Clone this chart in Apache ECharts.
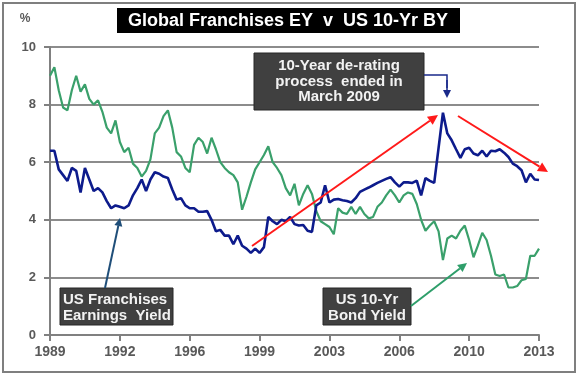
<!DOCTYPE html>
<html><head><meta charset="utf-8">
<script src="https://cdn.jsdelivr.net/npm/echarts@6/dist/echarts.min.js"></script>
<style>html,body{margin:0;padding:0;background:#fff}#c{width:579px;height:376px}</style>
</head><body><div id="c"></div>
<script>
const tickLabels = ['1989','1992','1996','1999','2003','2006','2010','2013'];
const categories = Array.from({length:113}, (_, i) => 'p' + i);
const franchisesEY = [
6.4,6.4,5.75,5.55,5.35,5.8,5.7,4.95,5.8,5.4,
5.0,5.1,4.95,4.65,4.4,4.5,4.45,4.4,4.5,4.85,
5.1,5.4,5.0,5.4,5.65,5.6,5.5,5.45,5.05,4.7,
4.75,4.5,4.4,4.4,4.28,4.28,4.3,4.0,3.6,3.65,
3.45,3.45,3.15,3.45,3.1,3.0,2.85,3.0,2.85,3.05,
4.1,3.95,3.85,4.0,3.95,4.1,3.85,3.8,3.82,3.62,
3.58,4.5,4.6,5.2,4.6,4.7,4.72,4.68,4.65,4.6,
4.75,4.97,5.05,5.12,5.2,5.28,5.35,5.42,5.48,5.3,
5.15,5.3,5.3,5.28,5.36,4.85,5.45,5.35,5.28,6.5,
7.72,7.0,6.76,6.45,6.15,6.45,6.5,6.3,6.24,6.4,
6.2,6.4,6.38,6.45,6.33,6.18,5.95,5.86,5.72,5.3,
5.6,5.4,5.38
];
const bond10Y = [
9.0,9.3,8.5,7.9,7.8,8.5,9.0,8.45,8.7,8.2,
8.0,8.15,7.75,7.2,7.0,7.45,6.7,6.35,6.5,5.95,
5.8,5.5,5.7,6.1,7.0,7.2,7.6,7.8,7.2,6.35,
6.2,5.8,5.65,6.6,6.85,6.7,6.3,6.85,6.45,6.0,
5.8,5.65,5.55,5.3,4.35,4.8,5.3,5.75,6.0,6.25,
6.55,6.0,5.8,5.55,5.1,4.85,5.25,4.5,4.9,5.2,
4.9,4.3,3.95,3.85,3.75,3.5,4.4,4.25,4.2,4.45,
4.2,4.45,4.2,4.05,4.1,4.45,4.6,4.85,5.05,4.85,
4.6,4.85,4.95,4.9,4.55,4.0,3.62,3.8,3.95,3.6,
2.6,3.35,3.45,3.35,3.62,3.8,3.3,2.7,3.1,3.55,
3.3,2.75,2.1,2.05,2.1,1.65,1.65,1.7,1.9,1.95,
2.75,2.75,3.0
];
const yTicks = {min:0, max:10, interval:2};

const chart = echarts.init(document.getElementById('c'), null, {renderer:'canvas'});

function arrow(x1,y1,x2,y2,color,w,head,hw){
  const a = Math.atan2(y2-y1, x2-x1);
  const bx = x2 - head*Math.cos(a), by = y2 - head*Math.sin(a);
  const px = -Math.sin(a)*hw, py = Math.cos(a)*hw;
  return [
    {type:'line', shape:{x1:x1,y1:y1,x2:bx,y2:by}, style:{stroke:color,lineWidth:w}, z:20},
    {type:'polygon', shape:{points:[[x2,y2],[bx+px,by+py],[bx-px,by-py]]}, style:{fill:color}, z:20}
  ];
}
function box(x,y,w,h,lines,align,tx,ty,lh,fs){
  const els = [{type:'rect', shape:{x:x,y:y,width:w,height:h}, style:{fill:'#404040', stroke:'#262626', lineWidth:1}, z:15}];
  lines.forEach((t,i)=>{
    els.push({type:'text', x:tx, y:ty+i*lh, style:{text:t, fill:'#f2f2f2', font:'bold '+fs+'px "Liberation Sans", Arial, sans-serif', textAlign:align, textVerticalAlign:'middle'}, z:16});
  });
  return els;
}

const labelColor = '#595959';
const graphics = [].concat(
  [{type:'rect', shape:{x:3,y:3,width:572,height:369}, style:{fill:'none', stroke:'#7f7f7f', lineWidth:2}, z:1}],
  [{type:'rect', shape:{x:117,y:8,width:343,height:25}, style:{fill:'#000'}, z:15},
   {type:'text', x:288, y:21, style:{text:'Global Franchises EY  v  US 10-Yr BY', fill:'#fff', font:'bold 18px "Liberation Sans", Arial, sans-serif', textAlign:'center', textVerticalAlign:'middle'}, z:16},
   {type:'text', x:25, y:19, style:{text:'%', fill:labelColor, font:'bold 12px "Liberation Sans", Arial, sans-serif', textAlign:'center', textVerticalAlign:'middle'}, z:16}],
  box(254,53,170,57,['10-Year de-rating','process  ended in','March 2009'],'center',339,66,15.5,15),
  box(60,288,113,37,['US Franchises','Earnings  Yield'],'left',63,300,15.5,15),
  box(323,288,88,37,['US 10-Yr','Bond Yield'],'center',367,300,15.5,15),
  [{type:'polyline', shape:{points:[[424,75],[447,75],[447,88]]}, style:{stroke:'#1a2a8a', lineWidth:1.5, fill:'none'}, z:20}],
  arrow(447,80,447,98,'#1a2a8a',1.5,8,4),
  arrow(105,288,120,218,'#1f4e79',2,8,4),
  arrow(411,306,467,263,'#2e9e6a',2,9,4.5),
  arrow(252,246,438,115,'#ff1a1a',2,10,5),
  arrow(458,116,548,172,'#ff1a1a',2,10,5)
);

chart.setOption({
  animation:false,
  backgroundColor:'#fff',
  grid:{left:50, right:40, top:47, bottom:41, containLabel:false},
  xAxis:{
    type:'category', data:categories, boundaryGap:false,
    axisLine:{show:true, lineStyle:{color:'#808080', width:2}},
    axisTick:{show:true, interval:15, length:6, lineStyle:{color:'#808080', width:2}},
    axisLabel:{interval:15, margin:10, color:labelColor, fontSize:14, fontWeight:'bold', fontFamily:'"Liberation Sans", Arial, sans-serif',
      formatter:(v, idx)=> tickLabels[Math.round(idx/16)] || ''},
    splitLine:{show:false}
  },
  yAxis:{
    type:'value', min:yTicks.min, max:yTicks.max, interval:yTicks.interval,
    axisLine:{show:true, lineStyle:{color:'#808080', width:2}},
    axisTick:{show:true, length:6, lineStyle:{color:'#808080', width:2}},
    axisLabel:{margin:14, color:labelColor, fontSize:13, fontWeight:'bold', fontFamily:'"Liberation Sans", Arial, sans-serif'},
    splitLine:{show:true, lineStyle:{color:'#8c8c8c', width:2}}
  },
  series:[
    {name:'US 10-Yr Bond Yield', type:'line', data:bond10Y, symbol:'none', lineStyle:{color:'#3aa06b', width:2.2}, z:3},
    {name:'US Franchises Earnings Yield', type:'line', data:franchisesEY, symbol:'none', lineStyle:{color:'#0d1b8c', width:2.6}, z:4}
  ],
  graphic:graphics
});
</script></body></html>
